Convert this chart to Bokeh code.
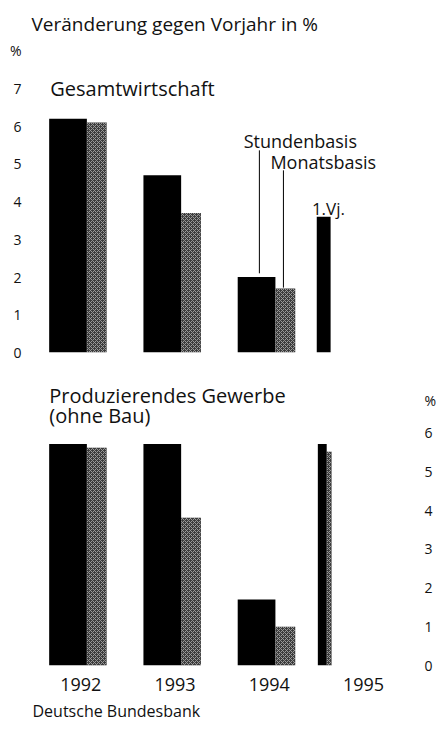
from bokeh.plotting import figure
from bokeh.layouts import column
from bokeh.models import Range1d, FixedTicker, Label, Title
from bokeh.embed import file_html
from bokeh.resources import INLINE

# ---------------- data ----------------
years = ["1992", "1993", "1994", "1995"]
gesamt_stunden = [6.2, 4.7, 2.0]      # 1992-1994, Stundenbasis
gesamt_monat = [6.1, 3.7, 1.7]        # 1992-1994, Monatsbasis
gesamt_q1_stunden = [3.6]             # 1995 1.Vj.
prod_stunden = [5.7, 5.7, 1.7]
prod_monat = [5.6, 3.8, 1.0]
prod_q1_stunden = [5.7]
prod_q1_monat = [5.5]
ticks_top = [0, 1, 2, 3, 4, 5, 6, 7]
ticks_bottom = [0, 1, 2, 3, 4, 5, 6]

# ---------------- style / layout ----------------
FONT = "Open Sans"
TXT = "#111111"
BLACK = "#000000"
GREY = "#3c3c3c"
OFF_B, W_B = -0.105, 0.40
OFF_G, W_G = 0.20, 0.21
X_RANGE = (-0.503, 3.581)
W = 439


def grey_bar(p, x, top, width):
    p.vbar(x=x, top=top, bottom=0, width=width, fill_color=GREY, line_color=None,
           hatch_pattern="diagonal_cross", hatch_color="#9a9a9a", hatch_scale=4,
           hatch_weight=1)


def black_bar(p, x, top, width):
    p.vbar(x=x, top=top, bottom=0, width=width, fill_color=BLACK, line_color=None)


def label(p, x, y, text, size, align="left"):
    p.add_layout(Label(x=x, y=y, text=text, text_font=FONT, text_font_size=size,
                       text_align=align, text_baseline="middle", text_color=TXT))


def base_fig(h, yr, border_top, border_bottom, yloc):
    p = figure(width=W, height=h, x_range=Range1d(*X_RANGE), y_range=Range1d(*yr),
               output_backend="svg", toolbar_location=None, y_axis_location=yloc,
               min_border_left=30, min_border_right=19,
               min_border_top=border_top, min_border_bottom=border_bottom)
    p.outline_line_color = None
    p.xgrid.visible = False
    p.ygrid.visible = False
    p.background_fill_color = "white"
    p.border_fill_color = "white"
    return p


def style_yaxis(ax, ticks, pct_pos):
    ax.ticker = FixedTicker(ticks=ticks + [pct_pos])
    ax.major_label_overrides = {pct_pos: "%"}
    ax.axis_line_color = None
    ax.major_tick_line_color = None
    ax.minor_tick_line_color = None
    ax.major_tick_out = 0
    ax.major_tick_in = 0
    ax.major_label_standoff = 9
    ax.major_label_text_font = FONT
    ax.major_label_text_font_size = "14px"
    ax.major_label_text_color = TXT


idx = list(range(len(years) - 1))

# ---------------- top panel: Gesamtwirtschaft ----------------
p1 = base_fig(368, (0, 9.307), 1, 16, "left")
p1.xaxis.visible = False
style_yaxis(p1.yaxis[0], ticks_top, 8.01)

black_bar(p1, [i + OFF_B for i in idx], gesamt_stunden, W_B)
grey_bar(p1, [i + OFF_G for i in idx], gesamt_monat, W_G)
black_bar(p1, [3 - 0.393], gesamt_q1_stunden, 0.147)

# leader lines for the legend labels (1994 bars)
p1.segment(x0=[2 + OFF_B + 0.03], y0=[gesamt_stunden[2] + 0.1],
           x1=[2 + OFF_B + 0.03], y1=[5.36], line_color=BLACK, line_width=1)
p1.segment(x0=[2 + OFF_G - 0.02], y0=[gesamt_monat[2] + 0.02],
           x1=[2 + OFF_G - 0.02], y1=[4.83], line_color=BLACK, line_width=1)

label(p1, -0.492, 8.70, "Veränderung gegen Vorjahr in %", "19px")
label(p1, -0.293, 7.0, "Gesamtwirtschaft", "20px")
label(p1, 1.759, 5.62, "Stundenbasis", "18px")
label(p1, 2.042, 5.05, "Monatsbasis", "18px")
label(p1, 2.482, 3.82, "1.Vj.", "17px")

# ---------------- bottom panel: Produzierendes Gewerbe ----------------
p2 = base_fig(364, (0, 7.306), 13, 67, "right")
style_yaxis(p2.yaxis[0], ticks_bottom, 6.82)
xa = p2.xaxis[0]
xa.ticker = FixedTicker(ticks=[i + 0.03 for i in range(len(years))])
xa.major_label_overrides = {i + 0.03: y for i, y in enumerate(years)}
xa.axis_line_color = None
xa.major_tick_line_color = None
xa.minor_tick_line_color = None
xa.major_tick_out = 0
xa.major_tick_in = 0
xa.major_label_standoff = 12
xa.major_label_text_font = FONT
xa.major_label_text_font_size = "18px"
xa.major_label_text_color = TXT

black_bar(p2, [i + OFF_B for i in idx], prod_stunden, W_B)
grey_bar(p2, [i + OFF_G for i in idx], prod_monat, W_G)
grey_bar(p2, [3 - 0.335], prod_q1_monat, 0.052)
black_bar(p2, [3 - 0.408], prod_q1_stunden, 0.094)

label(p2, -0.304, 6.95, "Produzierendes Gewerbe", "20px")
label(p2, -0.304, 6.43, "(ohne Bau)", "20px")

p2.add_layout(Title(text="Deutsche Bundesbank", align="left", offset=2, standoff=9,
                    text_font=FONT, text_font_size="16px", text_font_style="normal",
                    text_color=TXT), "below")

layout = column(p1, p2, spacing=0)
open("out.html", "w").write(file_html(layout, INLINE))
